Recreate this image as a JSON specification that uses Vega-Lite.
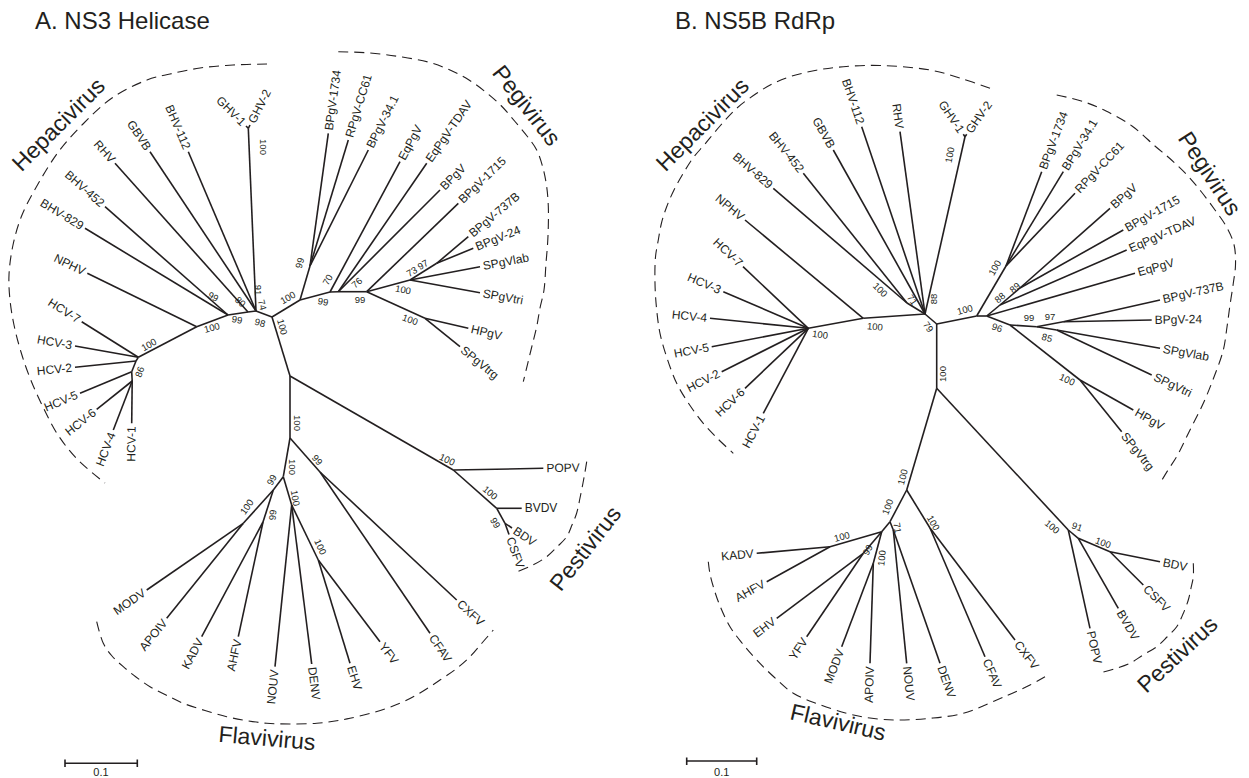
{
"$schema":"https://vega.github.io/schema/vega-lite/v6.json",
"width":1249,"height":778,"autosize":{"type":"fit","contains":"padding"},"padding":0,"background":"white",
"config":{"view":{"stroke":null},"text":{"font":"Liberation Sans","color":"#231f20"}},
"datasets":{
"nodes":[
{"id":"Ar","x":272,"y":317},
{"id":"Ah1","parent":"Ar","x":256,"y":311},
{"id":"Aghv","parent":"Ah1","x":248.3,"y":128.3},
{"id":"A1","parent":"Aghv","x":246,"y":126,"label":"GHV-1"},
{"id":"A2","parent":"Aghv","x":250,"y":125,"label":"GHV-2"},
{"id":"A3","parent":"Ah1","x":188.3,"y":151.7,"label":"BHV-112"},
{"id":"A4","parent":"Ah1","x":150,"y":151.7,"label":"GBVB"},
{"id":"Ah2","parent":"Ah1","x":248,"y":312},
{"id":"A5","parent":"Ah2","x":115,"y":163.3,"label":"RHV"},
{"id":"Ah3","parent":"Ah2","x":228,"y":315},
{"id":"A6","parent":"Ah3","x":105,"y":206.7,"label":"BHV-452"},
{"id":"A7","parent":"Ah3","x":85,"y":228.3,"label":"BHV-829"},
{"id":"Ah4","parent":"Ah3","x":196.7,"y":326.7},
{"id":"A8","parent":"Ah4","x":87.3,"y":273.3,"label":"NPHV"},
{"id":"Ahc","parent":"Ah4","x":138.3,"y":357.3},
{"id":"A9","parent":"Ahc","x":81.7,"y":321.7,"label":"HCV-7"},
{"id":"A10","parent":"Ahc","x":75,"y":346,"label":"HCV-3"},
{"id":"Ahc1","parent":"Ahc","x":136,"y":361},
{"id":"A11","parent":"Ahc1","x":75,"y":367.3,"label":"HCV-2"},
{"id":"Ahc2","parent":"Ahc1","x":131.7,"y":371.7},
{"id":"A12","parent":"Ahc2","x":80,"y":393.3,"label":"HCV-5"},
{"id":"Ahc3","parent":"Ahc2","x":132.2,"y":381},
{"id":"A13","parent":"Ahc3","x":96.7,"y":409.3,"label":"HCV-6"},
{"id":"A14","parent":"Ahc3","x":113.3,"y":430,"label":"HCV-4"},
{"id":"A15","parent":"Ahc3","x":131.7,"y":423.3,"label":"HCV-1"},
{"id":"AP0","parent":"Ar","x":300,"y":300},
{"id":"AP1","parent":"AP0","x":310,"y":266},
{"id":"A16","parent":"AP1","x":328.3,"y":133.3,"label":"BPgV-1734"},
{"id":"A17","parent":"AP1","x":348.3,"y":140,"label":"RPgV-CC61"},
{"id":"A18","parent":"AP1","x":368.3,"y":150,"label":"BPgV-34.1"},
{"id":"AP2","parent":"AP0","x":330,"y":292},
{"id":"A19","parent":"AP2","x":400,"y":161.7,"label":"EqPgV"},
{"id":"AP3","parent":"AP2","x":338.3,"y":291.7},
{"id":"A20","parent":"AP3","x":426.7,"y":163.3,"label":"EqPgV-TDAV"},
{"id":"A21","parent":"AP3","x":440,"y":190,"label":"BPgV"},
{"id":"AP4","parent":"AP3","x":366.7,"y":291.7},
{"id":"A22","parent":"AP4","x":458.3,"y":203.3,"label":"BPgV-1715"},
{"id":"AP5","parent":"AP4","x":410,"y":280},
{"id":"A23","parent":"AP5","x":480,"y":266.7,"label":"SPgVlab"},
{"id":"A24","parent":"AP5","x":480,"y":292.7,"label":"SPgVtri"},
{"id":"AP7","parent":"AP5","x":436.7,"y":263.3},
{"id":"A25","parent":"AP7","x":468.3,"y":236.7,"label":"BPgV-737B"},
{"id":"A26","parent":"AP7","x":473.3,"y":248.3,"label":"BPgV-24"},
{"id":"AP6","parent":"AP4","x":425,"y":318.3},
{"id":"A27","parent":"AP6","x":468.3,"y":328.3,"label":"HPgV"},
{"id":"A28","parent":"AP6","x":460,"y":346.7,"label":"SPgVtrg"},
{"id":"Ac","parent":"Ar","x":290,"y":376},
{"id":"APe0","parent":"Ac","x":453.3,"y":470},
{"id":"A29","parent":"APe0","x":543.3,"y":468.3,"label":"POPV"},
{"id":"APe1","parent":"APe0","x":496.7,"y":508.3},
{"id":"A30","parent":"APe1","x":521.7,"y":508.3,"label":"BVDV"},
{"id":"APe2","parent":"APe1","x":505,"y":523.3},
{"id":"A31","parent":"APe2","x":512,"y":528,"label":"BDV"},
{"id":"A32","parent":"APe2","x":509,"y":534.6,"label":"CSFV"},
{"id":"AF0","parent":"Ac","x":290,"y":438},
{"id":"AF1","parent":"AF0","x":320,"y":472},
{"id":"A33","parent":"AF1","x":456.7,"y":600,"label":"CXFV"},
{"id":"A34","parent":"AF1","x":430,"y":633.3,"label":"CFAV"},
{"id":"AF2","parent":"AF0","x":283.3,"y":476.7},
{"id":"AF3","parent":"AF2","x":273.3,"y":490},
{"id":"AFm","parent":"AF3","x":243.3,"y":523.3},
{"id":"A35","parent":"AFm","x":146.7,"y":590,"label":"MODV"},
{"id":"A36","parent":"AFm","x":166.7,"y":618.3,"label":"APOIV"},
{"id":"AFk","parent":"AF3","x":263,"y":522},
{"id":"A37","parent":"AFk","x":201.7,"y":636.7,"label":"KADV"},
{"id":"A38","parent":"AFk","x":238.3,"y":636.7,"label":"AHFV"},
{"id":"AF4","parent":"AF2","x":291.7,"y":505},
{"id":"A39","parent":"AF4","x":275,"y":666.7,"label":"NOUV"},
{"id":"A40","parent":"AF4","x":311.7,"y":664,"label":"DENV"},
{"id":"AFe","parent":"AF4","x":318.3,"y":560},
{"id":"A41","parent":"AFe","x":350,"y":663.3,"label":"EHV"},
{"id":"A42","parent":"AFe","x":380,"y":641.7,"label":"YFV"},
{"id":"Br","x":936.7,"y":324},
{"id":"Bh1","parent":"Br","x":925,"y":314},
{"id":"Bghv","parent":"Bh1","x":965,"y":136.7},
{"id":"B1","parent":"Bghv","x":963.3,"y":134.2,"label":"GHV-1"},
{"id":"B2","parent":"Bghv","x":966.7,"y":134.3,"label":"GHV-2"},
{"id":"B3","parent":"Bh1","x":900,"y":131.7,"label":"RHV"},
{"id":"B4","parent":"Bh1","x":861.7,"y":126.7,"label":"BHV-112"},
{"id":"B5","parent":"Bh1","x":833.3,"y":150,"label":"GBVB"},
{"id":"Bh5","parent":"Bh1","x":907,"y":303},
{"id":"B6","parent":"Bh5","x":803.3,"y":173.3,"label":"BHV-452"},
{"id":"B7","parent":"Bh5","x":773.3,"y":188.3,"label":"BHV-829"},
{"id":"Bh4","parent":"Bh1","x":863.3,"y":318.3},
{"id":"B8","parent":"Bh4","x":745,"y":220,"label":"NPHV"},
{"id":"Bhc","parent":"Bh4","x":808.3,"y":328.3},
{"id":"B9","parent":"Bhc","x":743,"y":266.7,"label":"HCV-7"},
{"id":"B10","parent":"Bhc","x":723.3,"y":291.7,"label":"HCV-3"},
{"id":"B11","parent":"Bhc","x":710,"y":318.3,"label":"HCV-4"},
{"id":"B12","parent":"Bhc","x":711.7,"y":346.7,"label":"HCV-5"},
{"id":"B13","parent":"Bhc","x":721.7,"y":371.7,"label":"HCV-2"},
{"id":"B14","parent":"Bhc","x":745,"y":388.3,"label":"HCV-6"},
{"id":"B15","parent":"Bhc","x":763.3,"y":413.3,"label":"HCV-1"},
{"id":"BP0","parent":"Br","x":976.7,"y":316},
{"id":"BP1","parent":"BP0","x":1006,"y":266},
{"id":"B16","parent":"BP1","x":1041.7,"y":171.7,"label":"BPgV-1734"},
{"id":"B17","parent":"BP1","x":1063.3,"y":171.7,"label":"BPgV-34.1"},
{"id":"B18","parent":"BP1","x":1075,"y":193.3,"label":"RPgV-CC61"},
{"id":"BP2","parent":"BP0","x":986.7,"y":316},
{"id":"B19","parent":"BP2","x":1135,"y":273.3,"label":"EqPgV"},
{"id":"BP3","parent":"BP2","x":1000,"y":305},
{"id":"B20","parent":"BP3","x":1126.7,"y":250,"label":"EqPgV-TDAV"},
{"id":"BP4","parent":"BP3","x":1020,"y":288},
{"id":"B21","parent":"BP4","x":1110,"y":208.3,"label":"BPgV"},
{"id":"B22","parent":"BP4","x":1123.3,"y":230,"label":"BPgV-1715"},
{"id":"BP5","parent":"BP2","x":1010,"y":325},
{"id":"BP6","parent":"BP5","x":1036.7,"y":326.7},
{"id":"BP7","parent":"BP6","x":1063.3,"y":321.7},
{"id":"B23","parent":"BP7","x":1160,"y":300,"label":"BPgV-737B"},
{"id":"B24","parent":"BP7","x":1151.7,"y":320,"label":"BPgV-24"},
{"id":"BP8","parent":"BP6","x":1056.7,"y":330},
{"id":"B25","parent":"BP8","x":1160,"y":348.3,"label":"SPgVlab"},
{"id":"B26","parent":"BP8","x":1151.7,"y":375,"label":"SPgVtri"},
{"id":"BP9","parent":"BP5","x":1080,"y":380},
{"id":"B27","parent":"BP9","x":1133.3,"y":410,"label":"HPgV"},
{"id":"B28","parent":"BP9","x":1121.7,"y":431.7,"label":"SPgVtrg"},
{"id":"Bc","parent":"Br","x":936.7,"y":388.3},
{"id":"BPe0","parent":"Bc","x":1068.3,"y":530},
{"id":"B29","parent":"BPe0","x":1090,"y":628.3,"label":"POPV"},
{"id":"BPe1","parent":"BPe0","x":1078.3,"y":538.3},
{"id":"B30","parent":"BPe1","x":1118.3,"y":608.3,"label":"BVDV"},
{"id":"BPe2","parent":"BPe1","x":1110,"y":551.7},
{"id":"B31","parent":"BPe2","x":1160,"y":561.7,"label":"BDV"},
{"id":"B32","parent":"BPe2","x":1143.3,"y":585,"label":"CSFV"},
{"id":"BF0","parent":"Bc","x":906.7,"y":490},
{"id":"BFc","parent":"BF0","x":930,"y":528},
{"id":"B33","parent":"BFc","x":985,"y":656.7,"label":"CFAV"},
{"id":"B34","parent":"BFc","x":1015,"y":640,"label":"CXFV"},
{"id":"BF1","parent":"BF0","x":890,"y":521.7},
{"id":"BF3","parent":"BF1","x":893.3,"y":530},
{"id":"B35","parent":"BF3","x":906.7,"y":663.3,"label":"NOUV"},
{"id":"B36","parent":"BF3","x":940,"y":663.3,"label":"DENV"},
{"id":"BF2","parent":"BF1","x":881.7,"y":531.7},
{"id":"BFk","parent":"BF2","x":830,"y":546.7},
{"id":"B37","parent":"BFk","x":756.7,"y":553.3,"label":"KADV"},
{"id":"B38","parent":"BFk","x":766.7,"y":581.7,"label":"AHFV"},
{"id":"BFe","parent":"BF2","x":863.3,"y":553.3},
{"id":"B39","parent":"BFe","x":776.7,"y":618.3,"label":"EHV"},
{"id":"B40","parent":"BFe","x":806.7,"y":636.7,"label":"YFV"},
{"id":"BFm","parent":"BF2","x":873.3,"y":563.3},
{"id":"B41","parent":"BFm","x":841.7,"y":646.7,"label":"MODV"},
{"id":"B42","parent":"BFm","x":870,"y":663.3,"label":"APOIV"}
],
"boot":[
{"t":"100","x":263,"y":147,"r":90},{"t":"91","x":258,"y":290,"r":90},{"t":"74","x":262,"y":305,"r":75},
{"t":"80","x":240,"y":302,"r":45},{"t":"99","x":213,"y":297,"r":30},{"t":"99","x":237,"y":320,"r":10},
{"t":"98","x":260,"y":323,"r":15},{"t":"100","x":212,"y":328,"r":-15},{"t":"100","x":149,"y":345,"r":-30},
{"t":"86","x":140,"y":372,"r":-70},{"t":"100","x":282,"y":327,"r":75},{"t":"100","x":288,"y":298,"r":-30},
{"t":"99","x":300,"y":263,"r":-75},{"t":"70","x":328,"y":280,"r":-60},{"t":"99","x":323,"y":302,"r":10},
{"t":"76","x":357,"y":283,"r":-40},{"t":"99","x":360,"y":300,"r":0},{"t":"73","x":412,"y":272,"r":-30},
{"t":"97","x":423,"y":265,"r":-30},{"t":"100","x":403,"y":290,"r":10},{"t":"100","x":410,"y":320,"r":20},
{"t":"100","x":447,"y":460,"r":25},{"t":"100","x":490,"y":493,"r":40},{"t":"99","x":495,"y":523,"r":60},
{"t":"100","x":297,"y":423,"r":90},{"t":"99","x":317,"y":460,"r":50},{"t":"100","x":292,"y":467,"r":90},
{"t":"99","x":272,"y":480,"r":-60},{"t":"100","x":295,"y":498,"r":80},{"t":"100","x":247,"y":507,"r":-55},
{"t":"99","x":273,"y":515,"r":-85},{"t":"100","x":320,"y":547,"r":65},
{"t":"100","x":950,"y":155,"r":-80},{"t":"71","x":912,"y":300,"r":55},{"t":"88","x":934,"y":299,"r":-90},
{"t":"100","x":880,"y":290,"r":45},{"t":"79","x":928,"y":327,"r":55},{"t":"100","x":875,"y":327,"r":5},
{"t":"100","x":820,"y":335,"r":8},{"t":"100","x":943,"y":374,"r":-90},{"t":"100","x":965,"y":310,"r":-15},
{"t":"100","x":995,"y":268,"r":-60},{"t":"88","x":1000,"y":298,"r":-40},{"t":"89","x":1015,"y":288,"r":-40},
{"t":"96","x":997,"y":328,"r":20},{"t":"99","x":1029,"y":318,"r":0},{"t":"97","x":1050,"y":317,"r":0},
{"t":"85","x":1047,"y":338,"r":15},{"t":"100","x":1067,"y":380,"r":25},{"t":"100","x":903,"y":477,"r":-75},
{"t":"100","x":1052,"y":527,"r":40},{"t":"91","x":1077,"y":527,"r":20},{"t":"100","x":1103,"y":543,"r":20},
{"t":"100","x":888,"y":507,"r":-70},{"t":"100","x":933,"y":523,"r":60},{"t":"71","x":897,"y":528,"r":80},
{"t":"100","x":842,"y":537,"r":-15},{"t":"99","x":868,"y":550,"r":-60},{"t":"100","x":882,"y":558,"r":-85}
],
"arcs":[
{"arc":"Ahep","i":0,"x":267,"y":64},{"arc":"Ahep","i":1,"x":233,"y":65},{"arc":"Ahep","i":2,"x":200,"y":68},{"arc":"Ahep","i":3,"x":170,"y":74},{"arc":"Ahep","i":4,"x":147,"y":80},{"arc":"Ahep","i":5,"x":112,"y":98},{"arc":"Ahep","i":6,"x":83,"y":124},{"arc":"Ahep","i":7,"x":59,"y":151},{"arc":"Ahep","i":8,"x":38,"y":184},{"arc":"Ahep","i":9,"x":22,"y":215},{"arc":"Ahep","i":10,"x":13,"y":245},{"arc":"Ahep","i":11,"x":9,"y":275},{"arc":"Ahep","i":12,"x":10,"y":300},{"arc":"Ahep","i":13,"x":14,"y":325},{"arc":"Ahep","i":14,"x":21,"y":352},{"arc":"Ahep","i":15,"x":30,"y":378},{"arc":"Ahep","i":16,"x":42,"y":405},{"arc":"Ahep","i":17,"x":58,"y":435},{"arc":"Ahep","i":18,"x":78,"y":460},{"arc":"Ahep","i":19,"x":105,"y":483},
{"arc":"Apeg","i":0,"x":338.3,"y":51.7},{"arc":"Apeg","i":1,"x":370,"y":53},{"arc":"Apeg","i":2,"x":400,"y":56.7},{"arc":"Apeg","i":3,"x":428,"y":62},{"arc":"Apeg","i":4,"x":450,"y":70},{"arc":"Apeg","i":5,"x":469,"y":80},{"arc":"Apeg","i":6,"x":485,"y":91.5},{"arc":"Apeg","i":7,"x":501,"y":105.5},{"arc":"Apeg","i":8,"x":515,"y":121.5},{"arc":"Apeg","i":9,"x":527,"y":136},{"arc":"Apeg","i":10,"x":536.7,"y":150},{"arc":"Apeg","i":11,"x":543,"y":168},{"arc":"Apeg","i":12,"x":546.7,"y":186.7},{"arc":"Apeg","i":13,"x":548.3,"y":206},{"arc":"Apeg","i":14,"x":548.3,"y":226.7},{"arc":"Apeg","i":15,"x":547.5,"y":245},{"arc":"Apeg","i":16,"x":546,"y":263},{"arc":"Apeg","i":17,"x":544,"y":290},{"arc":"Apeg","i":18,"x":540,"y":308},{"arc":"Apeg","i":19,"x":536.7,"y":326.7},{"arc":"Apeg","i":20,"x":531,"y":350},{"arc":"Apeg","i":21,"x":523.3,"y":381.7},
{"arc":"Apest","i":0,"x":586.7,"y":461.7},{"arc":"Apest","i":1,"x":585,"y":472},{"arc":"Apest","i":2,"x":583,"y":483},{"arc":"Apest","i":3,"x":580,"y":498},{"arc":"Apest","i":4,"x":576.7,"y":513},{"arc":"Apest","i":5,"x":572,"y":525},{"arc":"Apest","i":6,"x":566.7,"y":536.7},{"arc":"Apest","i":7,"x":557,"y":547},{"arc":"Apest","i":8,"x":546.7,"y":556.7},{"arc":"Apest","i":9,"x":531,"y":566},{"arc":"Apest","i":10,"x":513.3,"y":573.3},
{"arc":"Aflav","i":0,"x":96.7,"y":621.7},{"arc":"Aflav","i":1,"x":103.3,"y":643.3},{"arc":"Aflav","i":2,"x":112,"y":656},{"arc":"Aflav","i":3,"x":123.3,"y":666.7},{"arc":"Aflav","i":4,"x":136,"y":677},{"arc":"Aflav","i":5,"x":150,"y":686.7},{"arc":"Aflav","i":6,"x":166,"y":695},{"arc":"Aflav","i":7,"x":183.3,"y":703.3},{"arc":"Aflav","i":8,"x":205,"y":710.5},{"arc":"Aflav","i":9,"x":226.7,"y":716.7},{"arc":"Aflav","i":10,"x":246,"y":720.5},{"arc":"Aflav","i":11,"x":266.7,"y":723.3},{"arc":"Aflav","i":12,"x":290,"y":724},{"arc":"Aflav","i":13,"x":316.7,"y":723.3},{"arc":"Aflav","i":14,"x":335,"y":721},{"arc":"Aflav","i":15,"x":350,"y":718.3},{"arc":"Aflav","i":16,"x":375,"y":712},{"arc":"Aflav","i":17,"x":400,"y":703.3},{"arc":"Aflav","i":18,"x":420,"y":693},{"arc":"Aflav","i":19,"x":440,"y":680},{"arc":"Aflav","i":20,"x":456,"y":669},{"arc":"Aflav","i":21,"x":470,"y":656.7},{"arc":"Aflav","i":22,"x":482,"y":643},{"arc":"Aflav","i":23,"x":493.3,"y":630},
{"arc":"Bhep","i":0,"x":990,"y":88.3},{"arc":"Bhep","i":1,"x":960,"y":78},{"arc":"Bhep","i":2,"x":930,"y":70},{"arc":"Bhep","i":3,"x":880,"y":65.5},{"arc":"Bhep","i":4,"x":843.3,"y":66.7},{"arc":"Bhep","i":5,"x":815,"y":70.5},{"arc":"Bhep","i":6,"x":790,"y":76.7},{"arc":"Bhep","i":7,"x":772,"y":84},{"arc":"Bhep","i":8,"x":756.7,"y":93.3},{"arc":"Bhep","i":9,"x":737,"y":108},{"arc":"Bhep","i":10,"x":720,"y":126},{"arc":"Bhep","i":11,"x":705,"y":144},{"arc":"Bhep","i":12,"x":693,"y":158},{"arc":"Bhep","i":13,"x":683.3,"y":173.3},{"arc":"Bhep","i":14,"x":674,"y":190},{"arc":"Bhep","i":15,"x":666.7,"y":206.7},{"arc":"Bhep","i":16,"x":661.5,"y":223},{"arc":"Bhep","i":17,"x":658.3,"y":240},{"arc":"Bhep","i":18,"x":655.5,"y":257},{"arc":"Bhep","i":19,"x":655,"y":283.3},{"arc":"Bhep","i":20,"x":656.5,"y":308},{"arc":"Bhep","i":21,"x":660,"y":333.3},{"arc":"Bhep","i":22,"x":667,"y":358},{"arc":"Bhep","i":23,"x":676.7,"y":383.3},{"arc":"Bhep","i":24,"x":689,"y":404},{"arc":"Bhep","i":25,"x":703.3,"y":423.3},{"arc":"Bhep","i":26,"x":718,"y":439},{"arc":"Bhep","i":27,"x":733.3,"y":453.3},
{"arc":"Bpeg","i":0,"x":1056.7,"y":95},{"arc":"Bpeg","i":1,"x":1083,"y":101.5},{"arc":"Bpeg","i":2,"x":1106,"y":111},{"arc":"Bpeg","i":3,"x":1132,"y":126},{"arc":"Bpeg","i":4,"x":1155.5,"y":146.5},{"arc":"Bpeg","i":5,"x":1171.5,"y":160},{"arc":"Bpeg","i":6,"x":1187,"y":175},{"arc":"Bpeg","i":7,"x":1201.5,"y":192},{"arc":"Bpeg","i":8,"x":1215,"y":210},{"arc":"Bpeg","i":9,"x":1226,"y":226},{"arc":"Bpeg","i":10,"x":1234,"y":244.5},{"arc":"Bpeg","i":11,"x":1235.5,"y":265},{"arc":"Bpeg","i":12,"x":1233.3,"y":283.3},{"arc":"Bpeg","i":13,"x":1230,"y":305},{"arc":"Bpeg","i":14,"x":1227,"y":327},{"arc":"Bpeg","i":15,"x":1223.3,"y":350},{"arc":"Bpeg","i":16,"x":1214,"y":377},{"arc":"Bpeg","i":17,"x":1203.3,"y":403.3},{"arc":"Bpeg","i":18,"x":1190,"y":430},{"arc":"Bpeg","i":19,"x":1176.7,"y":456.7},{"arc":"Bpeg","i":20,"x":1168,"y":470},{"arc":"Bpeg","i":21,"x":1160,"y":483.3},
{"arc":"Bpest","i":0,"x":1193.3,"y":563.3},{"arc":"Bpest","i":1,"x":1193.3,"y":576.7},{"arc":"Bpest","i":2,"x":1191,"y":588},{"arc":"Bpest","i":3,"x":1188.3,"y":600},{"arc":"Bpest","i":4,"x":1183,"y":614},{"arc":"Bpest","i":5,"x":1176.7,"y":626.7},{"arc":"Bpest","i":6,"x":1167,"y":637},{"arc":"Bpest","i":7,"x":1156.7,"y":646.7},{"arc":"Bpest","i":8,"x":1143,"y":655},{"arc":"Bpest","i":9,"x":1130,"y":663.3},{"arc":"Bpest","i":10,"x":1114,"y":669},{"arc":"Bpest","i":11,"x":1098.3,"y":673.3},
{"arc":"Bflav","i":0,"x":708.3,"y":561.7},{"arc":"Bflav","i":1,"x":710,"y":574},{"arc":"Bflav","i":2,"x":713.3,"y":586.7},{"arc":"Bflav","i":3,"x":720,"y":606},{"arc":"Bflav","i":4,"x":730,"y":626.7},{"arc":"Bflav","i":5,"x":742,"y":643},{"arc":"Bflav","i":6,"x":756.7,"y":660},{"arc":"Bflav","i":7,"x":774,"y":677},{"arc":"Bflav","i":8,"x":793.3,"y":693.3},{"arc":"Bflav","i":9,"x":818,"y":704},{"arc":"Bflav","i":10,"x":846.7,"y":713.3},{"arc":"Bflav","i":11,"x":870,"y":718},{"arc":"Bflav","i":12,"x":896.7,"y":720},{"arc":"Bflav","i":13,"x":930,"y":718.3},{"arc":"Bflav","i":14,"x":963.3,"y":713.3},{"arc":"Bflav","i":15,"x":996.7,"y":700},{"arc":"Bflav","i":16,"x":1013,"y":693},{"arc":"Bflav","i":17,"x":1030,"y":685},{"arc":"Bflav","i":18,"x":1045,"y":676.7}
],
"clades":[
{"t":"Hepacivirus","x":59,"y":125,"r":-45},
{"t":"Pegivirus","x":526,"y":106,"r":52},
{"t":"Pestivirus","x":586,"y":549,"r":-52},
{"t":"Flavivirus","x":267,"y":739,"r":5},
{"t":"Hepacivirus","x":703,"y":125,"r":-45},
{"t":"Pegivirus","x":1209,"y":174,"r":57},
{"t":"Pestivirus","x":1178,"y":655,"r":-43},
{"t":"Flavivirus","x":838,"y":723,"r":13}
],
"titles":[
{"t":"A. NS3 Helicase","x":35,"y":28.5},
{"t":"B. NS5B RdRp","x":675,"y":28.5}
],
"segs":[
{"x":65,"y":763.3,"x2":137.3,"y2":763.3},
{"x":65,"y":759.5,"x2":65,"y2":767},
{"x":137.3,"y":759.5,"x2":137.3,"y2":767},
{"x":686.7,"y":761,"x2":756.7,"y2":761},
{"x":686.7,"y":757.5,"x2":686.7,"y2":765},
{"x":756.7,"y":757.5,"x2":756.7,"y2":765}
],
"barlabels":[
{"t":"0.1","x":101,"y":773},
{"t":"0.1","x":721.7,"y":772.5}
]
},
"encoding":{
"x":{"field":"x","type":"quantitative","scale":{"domain":[0,1249],"nice":false,"zero":false},"axis":null},
"y":{"field":"y","type":"quantitative","scale":{"domain":[0,778],"nice":false,"zero":false,"reverse":true},"axis":null}
},
"layer":[
{"data":{"name":"arcs"},
 "mark":{"type":"line","interpolate":"catmull-rom","strokeDash":[10,6],"strokeWidth":1.1,"color":"#231f20"},
 "encoding":{"detail":{"field":"arc"},"order":{"field":"i","type":"quantitative"}}},
{"data":{"name":"nodes"},
 "transform":[{"filter":"isValid(datum.parent)"},
  {"lookup":"parent","from":{"data":{"name":"nodes"},"key":"id","fields":["x","y"]},"as":["px","py"]}],
 "mark":{"type":"rule","strokeWidth":1.6,"color":"#231f20"},
 "encoding":{"x2":{"field":"px"},"y2":{"field":"py"}}},
{"data":{"name":"nodes"},
 "transform":[{"filter":"isValid(datum.label)"},
  {"lookup":"parent","from":{"data":{"name":"nodes"},"key":"id","fields":["x","y"]},"as":["px","py"]},
  {"calculate":"atan2(datum.y-datum.py, datum.x-datum.px)*180/PI","as":"a"},
  {"filter":"cos(datum.a*PI/180) >= 0"},
  {"calculate":"(datum.a+360)%360","as":"ang"}],
 "mark":{"type":"text","align":"left","baseline":"middle","dx":3,"fontSize":12},
 "encoding":{"text":{"field":"label"},"angle":{"field":"ang","type":"quantitative","scale":null}}},
{"data":{"name":"nodes"},
 "transform":[{"filter":"isValid(datum.label)"},
  {"lookup":"parent","from":{"data":{"name":"nodes"},"key":"id","fields":["x","y"]},"as":["px","py"]},
  {"calculate":"atan2(datum.y-datum.py, datum.x-datum.px)*180/PI","as":"a"},
  {"filter":"cos(datum.a*PI/180) < 0"},
  {"calculate":"(datum.a+180+360)%360","as":"ang"}],
 "mark":{"type":"text","align":"right","baseline":"middle","dx":-3,"fontSize":12},
 "encoding":{"text":{"field":"label"},"angle":{"field":"ang","type":"quantitative","scale":null}}},
{"data":{"name":"boot"},
 "mark":{"type":"text","align":"center","baseline":"middle","fontSize":9.5},
 "encoding":{"text":{"field":"t"},"angle":{"field":"r","type":"quantitative","scale":null}}},
{"data":{"name":"clades"},
 "mark":{"type":"text","align":"center","baseline":"middle","fontSize":23},
 "encoding":{"text":{"field":"t"},"angle":{"field":"r","type":"quantitative","scale":null}}},
{"data":{"name":"titles"},
 "mark":{"type":"text","align":"left","baseline":"alphabetic","fontSize":24},
 "encoding":{"text":{"field":"t"}}},
{"data":{"name":"segs"},
 "mark":{"type":"rule","strokeWidth":1.6,"color":"#231f20"},
 "encoding":{"x2":{"field":"x2"},"y2":{"field":"y2"}}},
{"data":{"name":"barlabels"},
 "mark":{"type":"text","align":"center","baseline":"middle","fontSize":11},
 "encoding":{"text":{"field":"t"}}}
]
}
